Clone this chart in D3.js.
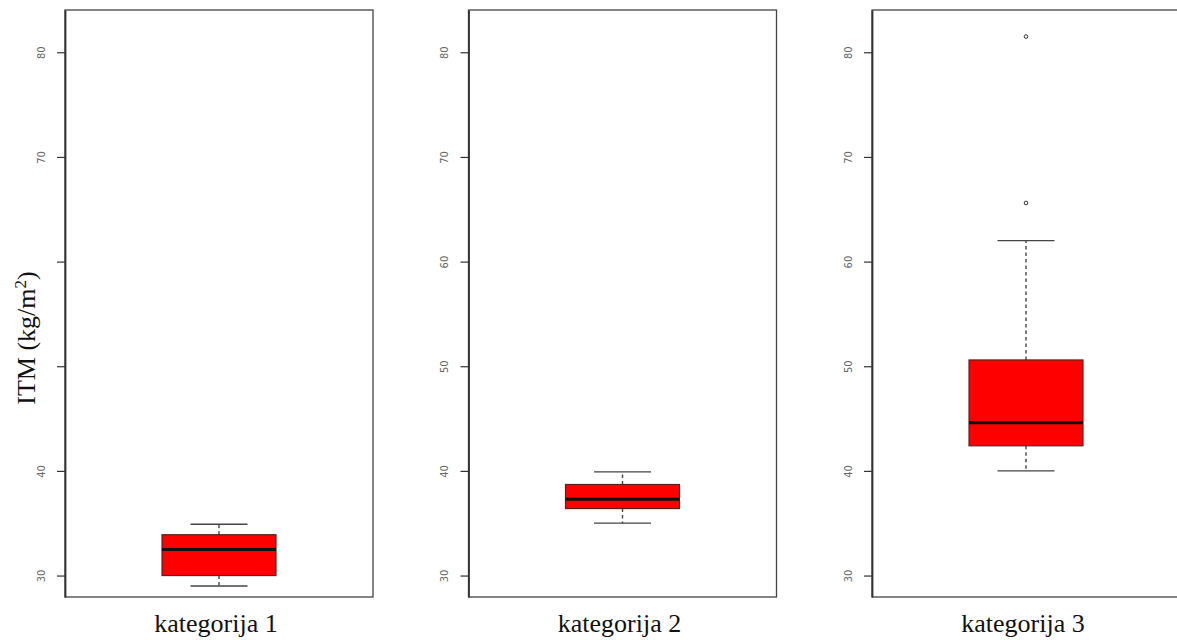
<!DOCTYPE html>
<html>
<head>
<meta charset="utf-8">
<script src="https://cdn.jsdelivr.net/npm/d3@7"></script>
<style>
  body { margin: 0; background: #fff; }
  svg { display: block; }
</style>
</head>
<body>
<svg id="canvas"></svg>
<script>
// categories and box statistics
const categories = ['kategorija 1', 'kategorija 2', 'kategorija 3']
const whiskerLow = [29.0, 35.0, 40.0]
const q1 = [30.0, 36.4, 42.4]
const median = [32.5, 37.3, 44.6]
const q3 = [33.9, 38.7, 50.6]
const whiskerHigh = [34.9, 39.9, 62.0]
const outliers = [[], [], [65.6, 81.5]]
const yTicks = [30, 40, 50, 60, 70, 80]
// the first panel only shows some of the tick labels
const tickLabelsShown = [[30, 40, 70, 80], yTicks, yTicks]

const width = 1177, height = 640
const plotTop = 10, plotBottom = 597

const svg = d3.select('#canvas').attr('width', width).attr('height', height)

const y = d3.scaleLinear().domain([27.95, 84.04]).range([plotBottom, plotTop])

const panel = d3.scaleBand()
    .domain(categories)
    .range([65, 1180])
    .paddingInner(0.2367)

const bw = panel.bandwidth()
const boxW = bw * 0.37
const capW = boxW * 0.5

const data = categories.map((c, i) => ({
    name: c,
    lo: whiskerLow[i], q1: q1[i], med: median[i], q3: q3[i], hi: whiskerHigh[i],
    out: outliers[i], labels: tickLabelsShown[i]
}))

const g = svg.selectAll('g.panel')
    .data(data)
    .enter()
    .append('g')
        .attr('class', 'panel')
        .attr('transform', d => `translate(${panel(d.name)},0)`)

// frame
g.append('rect')
    .attr('x', 0).attr('y', plotTop)
    .attr('width', bw).attr('height', plotBottom - plotTop)
    .attr('fill', 'none').attr('stroke', '#444').attr('stroke-width', 1.3)

// y axis with rotated labels
g.each(function (d) {
    const axis = d3.axisLeft(y)
        .tickValues(yTicks)
        .tickSizeInner(8)
        .tickSizeOuter(0)
        .tickFormat(v => d.labels.includes(v) ? v : '')
    const ax = d3.select(this).append('g').call(axis)
    ax.select('.domain').attr('stroke', '#333').attr('stroke-width', 1.8)
    ax.selectAll('.tick line').attr('stroke', '#333').attr('stroke-width', 1.2)
    ax.selectAll('.tick text')
        .attr('font-family', '"Liberation Sans Narrow", "DejaVu Sans Condensed", Arial, sans-serif')
        .attr('font-stretch', 'condensed')
        .attr('font-size', 11)
        .attr('fill', '#666')
        .attr('text-anchor', 'middle')
        .attr('transform', 'translate(-24,0) rotate(-90)')
        .attr('x', 0).attr('dy', '0.35em')
})

const cx = bw / 2

// whiskers (dashed)
g.append('line')
    .attr('x1', cx).attr('x2', cx)
    .attr('y1', d => y(d.q3)).attr('y2', d => y(d.hi))
    .attr('stroke', '#444').attr('stroke-width', 1.4).attr('stroke-dasharray', '3.5,3')
g.append('line')
    .attr('x1', cx).attr('x2', cx)
    .attr('y1', d => y(d.q1)).attr('y2', d => y(d.lo))
    .attr('stroke', '#444').attr('stroke-width', 1.4).attr('stroke-dasharray', '3.5,3')

// caps
g.selectAll('line.cap')
    .data(d => [d.lo, d.hi])
    .enter()
    .append('line')
        .attr('class', 'cap')
        .attr('x1', cx - capW / 2).attr('x2', cx + capW / 2)
        .attr('y1', v => y(v)).attr('y2', v => y(v))
        .attr('stroke', '#444').attr('stroke-width', 1.3)

// box
g.append('rect')
    .attr('x', cx - boxW / 2)
    .attr('y', d => y(d.q3))
    .attr('width', boxW)
    .attr('height', d => y(d.q1) - y(d.q3))
    .attr('fill', '#ff0000').attr('stroke', '#552222').attr('stroke-width', 1.2)

// median
g.append('line')
    .attr('x1', cx - boxW / 2).attr('x2', cx + boxW / 2)
    .attr('y1', d => y(d.med)).attr('y2', d => y(d.med))
    .attr('stroke', '#111').attr('stroke-width', 3)

// outliers
g.selectAll('circle')
    .data(d => d.out)
    .enter()
    .append('circle')
        .attr('cx', cx).attr('cy', v => y(v)).attr('r', 1.8)
        .attr('fill', 'none').attr('stroke', '#333').attr('stroke-width', 1)

// category labels
g.append('text')
    .attr('x', cx - 3).attr('y', 632)
    .attr('text-anchor', 'middle')
    .attr('font-family', '"Liberation Serif", "Times New Roman", serif')
    .attr('font-size', 26)
    .attr('fill', '#111')
    .text(d => d.name)

// y-axis title
const title = svg.append('text')
    .attr('transform', 'translate(35,338) rotate(-90)')
    .attr('text-anchor', 'middle')
    .attr('font-family', '"Liberation Serif", "Times New Roman", serif')
    .attr('font-size', 26)
    .attr('fill', '#111')
title.append('tspan').text('ITM (kg/m')
title.append('tspan').attr('dy', -9).attr('font-size', 17).text('2')
title.append('tspan').attr('dy', 9).text(')')
</script>
</body>
</html>
